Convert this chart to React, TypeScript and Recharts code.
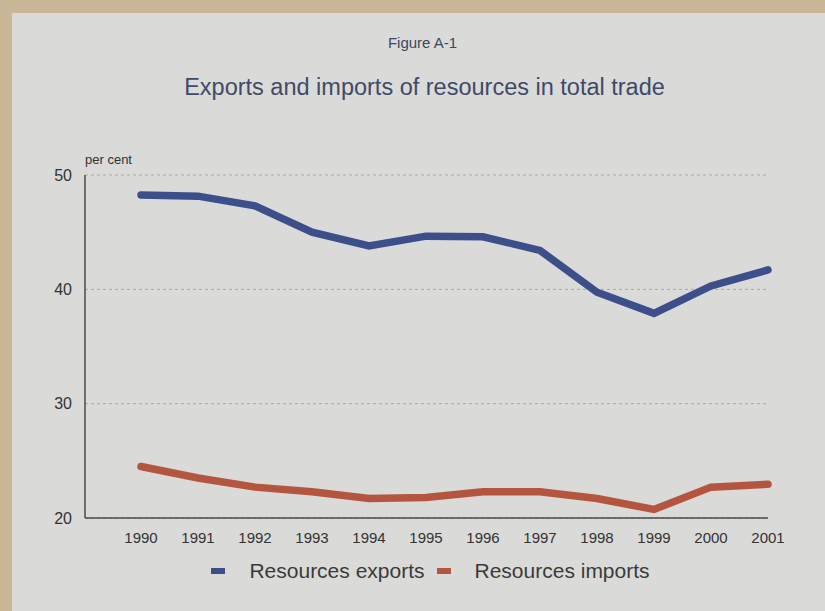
import React from 'react';
import { LineChart, Line, XAxis, YAxis, CartesianGrid, Legend } from 'recharts';

const years = ['1990', '1991', '1992', '1993', '1994', '1995', '1996', '1997', '1998', '1999', '2000', '2001'];
const resourcesExports = [48.25, 48.15, 47.3, 45.0, 43.8, 44.65, 44.6, 43.4, 39.75, 37.9, 40.3, 41.7];
const resourcesImports = [24.5, 23.5, 22.7, 22.3, 21.7, 21.8, 22.3, 22.3, 21.7, 20.75, 22.7, 22.95];
const yTicks = [20, 30, 40, 50];

const chartData = years.map((year, i) => ({
  year,
  exports: resourcesExports[i],
  imports: resourcesImports[i],
}));

const FONT = '"Liberation Sans", Arial, sans-serif';
const EXPORT_COLOR = '#3d4f8a';
const IMPORT_COLOR = '#b4563f';

const renderLegend = (props: any) => {
  const { payload } = props;
  return (
    <div style={{ display: 'flex', justifyContent: 'center', fontFamily: FONT, fontSize: 21, color: '#3a3a3a', paddingLeft: 58 }}>
      {payload.map((entry: any, idx: number) => (
        <div key={idx} style={{ display: 'flex', alignItems: 'center', marginRight: idx === 0 ? 12 : 0 }}>
          <span style={{ display: 'inline-block', width: 14, height: 6, background: entry.color, marginRight: 24 }} />
          <span>{entry.value}</span>
        </div>
      ))}
    </div>
  );
};

export default function App() {
  return (
    <div style={{ position: 'absolute', left: 0, top: 0, width: 825, height: 611, background: '#c9b797', overflow: 'hidden' }}>
      <div style={{ position: 'absolute', left: 12, top: 13, right: 0, bottom: 0, background: '#dadad8' }} />
      <div style={{ position: 'absolute', left: 0, width: 845, top: 34, textAlign: 'center', fontFamily: FONT, fontSize: 15, color: '#3f4760' }}>
        Figure A-1
      </div>
      <div style={{ position: 'absolute', left: 0, width: 849, top: 74, textAlign: 'center', fontFamily: FONT, fontSize: 23.5, color: '#3f4a68' }}>
        Exports and imports of resources in total trade
      </div>
      <div style={{ position: 'absolute', left: 85, top: 152, fontFamily: FONT, fontSize: 13, color: '#333' }}>
        per cent
      </div>
      <div style={{ position: 'absolute', left: 0, top: 0 }}>
        <LineChart width={825} height={611} data={chartData} margin={{ top: 175, right: 57, left: 35, bottom: 39 }}>
          <CartesianGrid vertical={false} strokeDasharray="3 3" stroke="#a9a9a9" />
          <XAxis
            dataKey="year"
            axisLine={{ stroke: '#4a4a4a', strokeWidth: 1.5 }}
            tickLine={false}
            padding={{ left: 56, right: 0 }}
            tick={{ fill: '#333', fontSize: 15, fontFamily: FONT }}
            tickMargin={8}
            height={30}
          />
          <YAxis
            domain={[20, 50]}
            ticks={yTicks}
            axisLine={{ stroke: '#4a4a4a', strokeWidth: 1.5 }}
            tickLine={false}
            tick={{ fill: '#333', fontSize: 16, fontFamily: FONT }}
            tickMargin={7}
            width={50}
          />
          <Legend
            verticalAlign="bottom"
            content={renderLegend}
            wrapperStyle={{ bottom: 28 }}
          />
          <Line
            type="linear"
            dataKey="exports"
            name="Resources exports"
            stroke={EXPORT_COLOR}
            strokeWidth={7.5}
            dot={false}
            strokeLinecap="round"
            isAnimationActive={false}
          />
          <Line
            type="linear"
            dataKey="imports"
            name="Resources imports"
            stroke={IMPORT_COLOR}
            strokeWidth={7.5}
            dot={false}
            strokeLinecap="round"
            isAnimationActive={false}
          />
        </LineChart>
      </div>
    </div>
  );
}
